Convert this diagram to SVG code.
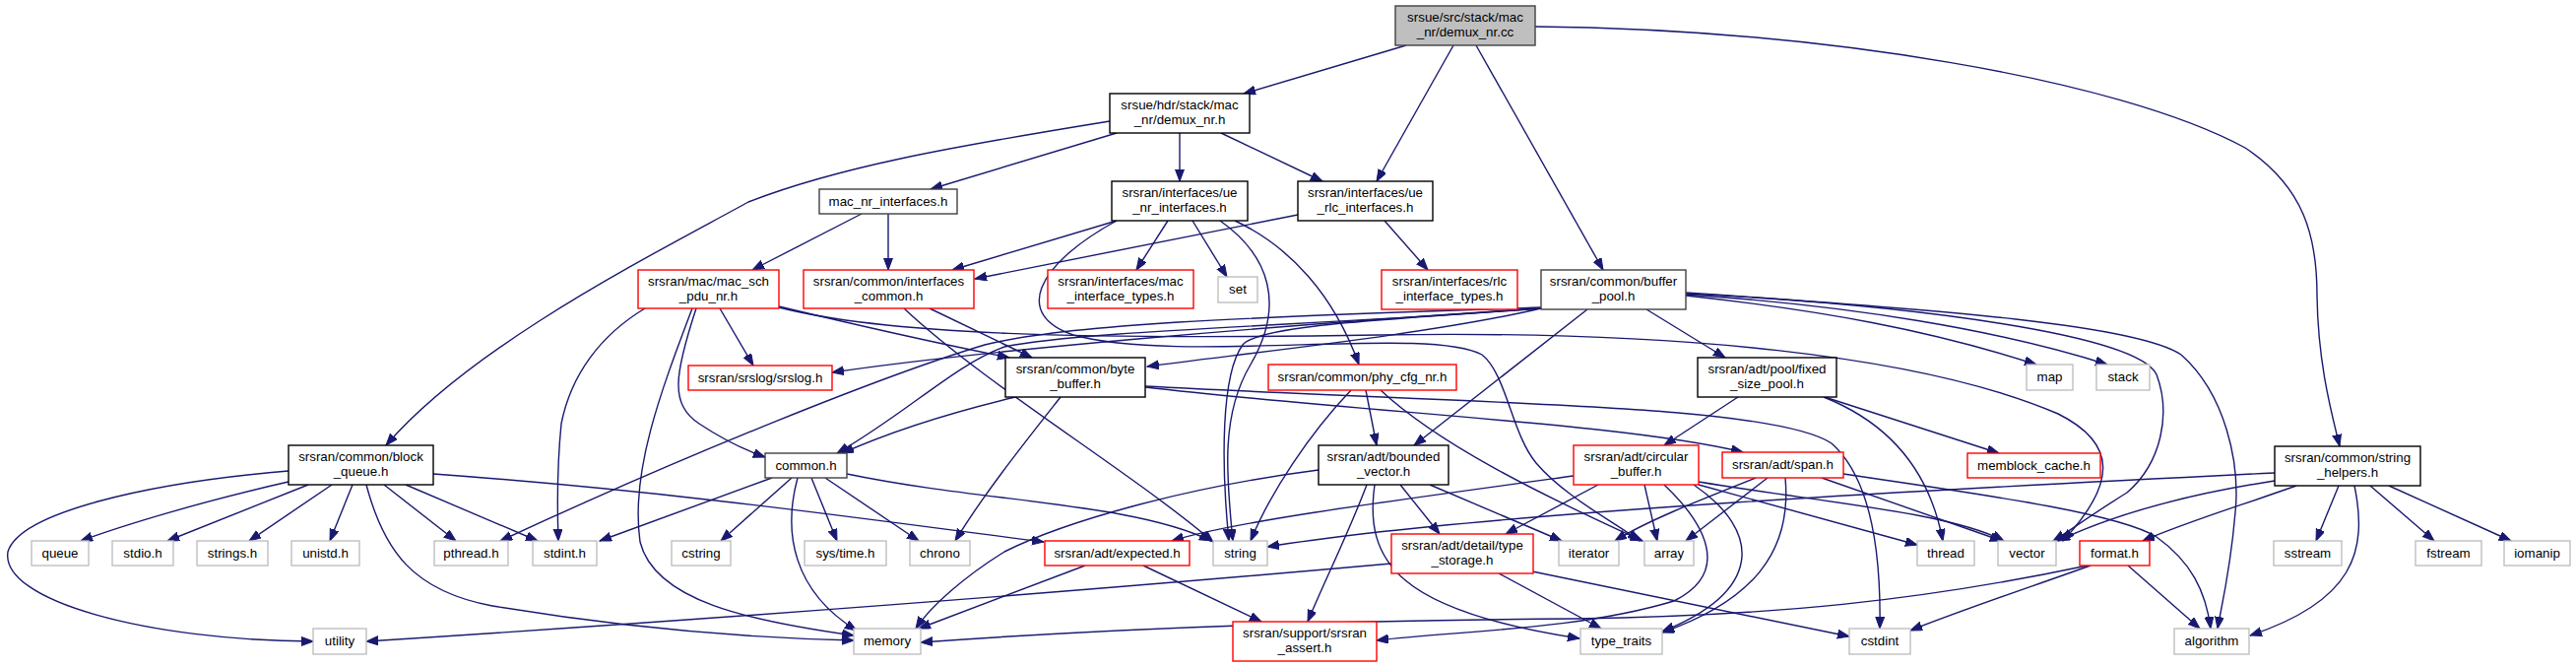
<svg xmlns="http://www.w3.org/2000/svg" width="2616" height="677" viewBox="0 0 2616 677">
<style>
rect{fill:#fff;stroke:#000;stroke-width:1.4}
.root rect{fill:#bfbfbf;stroke:#404040}
.dk rect{stroke:#404040}
.lf rect{stroke:#bfbfbf}
.tr rect{stroke:#ff0000}
text{font-family:"Liberation Sans",Arial,Helvetica,sans-serif;font-size:13.33px;text-anchor:middle;fill:#000}
#edges path{fill:none;stroke:#191970;stroke-width:1.4;marker-end:url(#a)}
</style>
<defs>
<marker id="a" markerUnits="userSpaceOnUse" markerWidth="13" markerHeight="10" refX="12" refY="4.5" orient="auto"><path d="M0,0 L12,4.5 L0,9 z" fill="#191970" stroke="#191970" stroke-width="1"/></marker>
</defs>
<rect x="0" y="0" width="2616" height="677" style="fill:#fff;stroke:none"/>
<g id="edges">
<path d="M1428,46 L1263,95"/>
<path d="M1476,46 L1398,184"/>
<path d="M1499,46 L1628,274"/>
<path d="M1559,27 C1850,30 2150,80 2280,150 C2340,190 2353,240 2353,300 C2354,370 2368,420 2376,453"/>
<path d="M1127,123 C960,150 850,170 760,205 C660,260 480,350 392,452"/>
<path d="M1134,135 L945,192"/>
<path d="M1198,135 L1198,184"/>
<path d="M1240,135 L1343,184"/>
<path d="M875,217 L764,274"/>
<path d="M902,217 L902,274"/>
<path d="M1134,224 L967,274"/>
<path d="M1318,218 L990,283"/>
<path d="M1186,224 L1154,274"/>
<path d="M1211,224 L1246,281"/>
<path d="M1254,224 C1310,250 1355,300 1380,370"/>
<path d="M1239,224 C1290,260 1305,310 1270,370 C1240,420 1245,480 1252,549"/>
<path d="M1134,224 C1050,270 1030,320 1090,340 C1200,370 1450,330 1505,360 C1530,380 1535,440 1560,470 C1590,505 1640,530 1665,549"/>
<path d="M1406,224 L1450,274"/>
<path d="M731,313 L765,371"/>
<path d="M791,311 C870,330 960,350 1025,363"/>
<path d="M791,312 C900,340 1100,345 1400,340 C1700,335 1950,360 2090,420 C2150,450 2150,490 2095,549"/>
<path d="M707,313 C685,380 680,410 710,430 C740,450 760,458 777,464"/>
<path d="M655,313 C610,340 580,380 570,430 C566,470 566,520 567,549"/>
<path d="M703,313 C670,400 640,480 650,550 C665,610 760,630 867,645"/>
<path d="M944,313 L1048,363"/>
<path d="M918,313 C1000,390 1150,480 1232,550"/>
<path d="M1672,314 L1752,363"/>
<path d="M1612,314 L1436,452"/>
<path d="M1712,300 C1850,315 1960,335 2068,370"/>
<path d="M1712,299 C1880,310 2030,335 2140,370"/>
<path d="M1712,298 C1950,310 2170,340 2190,380 C2205,420 2195,470 2160,500 C2120,525 2100,540 2085,549"/>
<path d="M1712,297 C1980,315 2170,330 2215,360 C2260,400 2275,470 2270,520 C2265,580 2255,620 2252,638"/>
<path d="M1565,313 C1450,340 1250,360 1165,372"/>
<path d="M1565,313 C1300,330 1000,355 845,378"/>
<path d="M1565,313 C1350,330 1100,335 1020,352 C970,370 920,420 850,460"/>
<path d="M1565,312 C1350,320 1100,325 1000,350 C900,380 700,460 508,549"/>
<path d="M1565,313 C1400,325 1280,330 1262,350 C1240,380 1240,470 1248,549"/>
<path d="M1031,403 C960,420 900,440 855,460"/>
<path d="M1077,403 C1040,450 1000,500 970,549"/>
<path d="M1163,393 C1400,420 1650,430 1770,459"/>
<path d="M1163,392 C1500,410 1800,410 1860,450 C1905,490 1910,580 1909,638"/>
<path d="M1387,396 L1398,452"/>
<path d="M1372,396 C1330,440 1290,500 1270,549"/>
<path d="M1402,396 C1460,450 1560,500 1668,549"/>
<path d="M1765,403 L1690,452"/>
<path d="M1852,403 C1920,430 1960,480 1973,549"/>
<path d="M1853,403 L2030,460"/>
<path d="M293,478 C150,490 20,520 8,560 C0,610 150,650 318,651"/>
<path d="M293,489 C200,510 120,535 82,549"/>
<path d="M313,492 L170,549"/>
<path d="M337,492 L253,549"/>
<path d="M358,492 L335,549"/>
<path d="M390,492 L463,549"/>
<path d="M412,492 L546,549"/>
<path d="M372,492 C390,560 420,600 500,615 C650,640 780,648 867,650"/>
<path d="M440,481 C700,500 900,530 1060,550"/>
<path d="M784,485 L609,549"/>
<path d="M804,485 L732,549"/>
<path d="M810,485 C795,540 805,600 870,640"/>
<path d="M824,485 L850,549"/>
<path d="M838,485 L933,549"/>
<path d="M860,481 C1000,510 1150,510 1230,549"/>
<path d="M1339,477 C1200,495 1080,530 1020,560 C980,585 945,615 930,638"/>
<path d="M1388,492 C1370,540 1345,590 1328,631"/>
<path d="M1396,492 C1385,570 1420,620 1604,648"/>
<path d="M1422,492 L1462,542"/>
<path d="M1452,492 L1586,549"/>
<path d="M1598,483 C1400,510 1250,530 1190,549"/>
<path d="M1623,492 L1529,542"/>
<path d="M1670,492 L1683,549"/>
<path d="M1690,492 C1730,530 1760,580 1700,610 C1600,640 1480,640 1398,650"/>
<path d="M1720,492 C1790,540 1790,600 1688,641"/>
<path d="M1725,492 L1947,553"/>
<path d="M1725,489 C1850,510 1980,520 2035,549"/>
<path d="M1783,485 C1720,510 1670,530 1640,549"/>
<path d="M1795,485 L1712,549"/>
<path d="M1813,485 C1820,560 1780,610 1688,642"/>
<path d="M1850,485 L2033,549"/>
<path d="M1872,481 C2000,500 2150,520 2190,545 C2225,570 2240,600 2245,638"/>
<path d="M1413,572 C1100,600 700,630 372,651"/>
<path d="M1522,582 L1626,638"/>
<path d="M1556,580 L1878,646"/>
<path d="M1102,574 L933,638"/>
<path d="M1161,574 L1281,631"/>
<path d="M2120,574 C1950,610 1800,625 1600,628 C1300,630 1100,640 935,652"/>
<path d="M2123,574 C2050,600 1990,620 1940,640"/>
<path d="M2161,574 L2234,638"/>
<path d="M2310,480 C2000,495 1500,520 1287,555"/>
<path d="M2310,488 C2200,505 2130,530 2090,549"/>
<path d="M2332,493 C2270,515 2220,530 2176,549"/>
<path d="M2375,493 L2352,549"/>
<path d="M2391,493 C2405,560 2390,610 2285,645"/>
<path d="M2407,493 L2472,549"/>
<path d="M2426,493 L2550,549"/>
</g>
<g id="n0" class="root"><rect x="1417" y="6" width="142" height="40"/><text x="1488" y="22">srsue/src/stack/mac</text><text x="1488" y="37">_nr/demux_nr.cc</text></g>
<g id="n1"><rect x="1127" y="95" width="142" height="40"/><text x="1198" y="111">srsue/hdr/stack/mac</text><text x="1198" y="126">_nr/demux_nr.h</text></g>
<g id="n2" class="dk"><rect x="832" y="192" width="140" height="25"/><text x="902" y="209">mac_nr_interfaces.h</text></g>
<g id="n3"><rect x="1129" y="184" width="138" height="40"/><text x="1198" y="200">srsran/interfaces/ue</text><text x="1198" y="215">_nr_interfaces.h</text></g>
<g id="n4"><rect x="1318" y="184" width="137" height="40"/><text x="1386.5" y="200">srsran/interfaces/ue</text><text x="1386.5" y="215">_rlc_interfaces.h</text></g>
<g id="n5" class="tr"><rect x="648" y="274" width="143" height="39"/><text x="719.5" y="290">srsran/mac/mac_sch</text><text x="719.5" y="305">_pdu_nr.h</text></g>
<g id="n6" class="tr"><rect x="816" y="274" width="173" height="39"/><text x="902.5" y="290">srsran/common/interfaces</text><text x="902.5" y="305">_common.h</text></g>
<g id="n7" class="tr"><rect x="1064" y="274" width="148" height="39"/><text x="1138" y="290">srsran/interfaces/mac</text><text x="1138" y="305">_interface_types.h</text></g>
<g id="n8" class="lf"><rect x="1237" y="281" width="40" height="26"/><text x="1257" y="298">set</text></g>
<g id="n9" class="tr"><rect x="1403" y="274" width="138" height="40"/><text x="1472" y="290">srsran/interfaces/rlc</text><text x="1472" y="305">_interface_types.h</text></g>
<g id="n10" class="dk"><rect x="1565" y="274" width="147" height="40"/><text x="1638.5" y="290">srsran/common/buffer</text><text x="1638.5" y="305">_pool.h</text></g>
<g id="n11" class="tr"><rect x="699" y="371" width="146" height="25"/><text x="772" y="388">srsran/srslog/srslog.h</text></g>
<g id="n12"><rect x="1021" y="363" width="142" height="40"/><text x="1092" y="379">srsran/common/byte</text><text x="1092" y="394">_buffer.h</text></g>
<g id="n13" class="tr"><rect x="1288" y="370" width="191" height="26"/><text x="1383.5" y="387">srsran/common/phy_cfg_nr.h</text></g>
<g id="n14"><rect x="1724" y="363" width="141" height="40"/><text x="1794.5" y="379">srsran/adt/pool/fixed</text><text x="1794.5" y="394">_size_pool.h</text></g>
<g id="n15" class="lf"><rect x="2058" y="370" width="47" height="26"/><text x="2081.5" y="387">map</text></g>
<g id="n16" class="lf"><rect x="2129" y="370" width="54" height="26"/><text x="2156" y="387">stack</text></g>
<g id="n17"><rect x="293" y="452" width="147" height="40"/><text x="366.5" y="468">srsran/common/block</text><text x="366.5" y="483">_queue.h</text></g>
<g id="n18" class="dk"><rect x="777" y="460" width="83" height="25"/><text x="818.5" y="477">common.h</text></g>
<g id="n19"><rect x="1339" y="452" width="132" height="40"/><text x="1405" y="468">srsran/adt/bounded</text><text x="1405" y="483">_vector.h</text></g>
<g id="n20" class="tr"><rect x="1598" y="452" width="127" height="40"/><text x="1661.5" y="468">srsran/adt/circular</text><text x="1661.5" y="483">_buffer.h</text></g>
<g id="n21" class="tr"><rect x="1749" y="459" width="123" height="26"/><text x="1810.5" y="476">srsran/adt/span.h</text></g>
<g id="n22" class="tr"><rect x="1998" y="460" width="135" height="25"/><text x="2065.5" y="477">memblock_cache.h</text></g>
<g id="n23"><rect x="2310" y="453" width="148" height="40"/><text x="2384" y="469">srsran/common/string</text><text x="2384" y="484">_helpers.h</text></g>
<g id="n24" class="lf"><rect x="32" y="549" width="58" height="25"/><text x="61" y="566">queue</text></g>
<g id="n25" class="lf"><rect x="114" y="549" width="62" height="25"/><text x="145" y="566">stdio.h</text></g>
<g id="n26" class="lf"><rect x="200" y="549" width="72" height="25"/><text x="236" y="566">strings.h</text></g>
<g id="n27" class="lf"><rect x="296" y="549" width="69" height="25"/><text x="330.5" y="566">unistd.h</text></g>
<g id="n28" class="lf"><rect x="441" y="549" width="75" height="25"/><text x="478.5" y="566">pthread.h</text></g>
<g id="n29" class="lf"><rect x="541" y="549" width="65" height="25"/><text x="573.5" y="566">stdint.h</text></g>
<g id="n30" class="lf"><rect x="682" y="549" width="60" height="25"/><text x="712" y="566">cstring</text></g>
<g id="n31" class="lf"><rect x="817" y="549" width="83" height="25"/><text x="858.5" y="566">sys/time.h</text></g>
<g id="n32" class="lf"><rect x="924" y="549" width="61" height="25"/><text x="954.5" y="566">chrono</text></g>
<g id="n33" class="tr"><rect x="1061" y="549" width="147" height="25"/><text x="1134.5" y="566">srsran/adt/expected.h</text></g>
<g id="n34" class="lf"><rect x="1232" y="549" width="55" height="25"/><text x="1259.5" y="566">string</text></g>
<g id="n35" class="tr"><rect x="1413" y="542" width="144" height="40"/><text x="1485" y="558">srsran/adt/detail/type</text><text x="1485" y="573">_storage.h</text></g>
<g id="n36" class="lf"><rect x="1583" y="549" width="61" height="25"/><text x="1613.5" y="566">iterator</text></g>
<g id="n37" class="lf"><rect x="1670" y="549" width="50" height="25"/><text x="1695" y="566">array</text></g>
<g id="n38" class="lf"><rect x="1947" y="549" width="58" height="25"/><text x="1976" y="566">thread</text></g>
<g id="n39" class="lf"><rect x="2029" y="549" width="59" height="25"/><text x="2058.5" y="566">vector</text></g>
<g id="n40" class="tr"><rect x="2112" y="549" width="71" height="25"/><text x="2147.5" y="566">format.h</text></g>
<g id="n41" class="lf"><rect x="2309" y="549" width="69" height="25"/><text x="2343.5" y="566">sstream</text></g>
<g id="n42" class="lf"><rect x="2453" y="549" width="67" height="25"/><text x="2486.5" y="566">fstream</text></g>
<g id="n43" class="lf"><rect x="2543" y="549" width="67" height="25"/><text x="2576.5" y="566">iomanip</text></g>
<g id="n44" class="lf"><rect x="318" y="638" width="54" height="26"/><text x="345" y="655">utility</text></g>
<g id="n45" class="lf"><rect x="867" y="638" width="68" height="26"/><text x="901" y="655">memory</text></g>
<g id="n46" class="tr"><rect x="1252" y="631" width="146" height="40"/><text x="1325" y="647">srsran/support/srsran</text><text x="1325" y="662">_assert.h</text></g>
<g id="n47" class="lf"><rect x="1605" y="638" width="83" height="26"/><text x="1646.5" y="655">type_traits</text></g>
<g id="n48" class="lf"><rect x="1878" y="638" width="62" height="26"/><text x="1909" y="655">cstdint</text></g>
<g id="n49" class="lf"><rect x="2208" y="638" width="76" height="26"/><text x="2246" y="655">algorithm</text></g>
</svg>
